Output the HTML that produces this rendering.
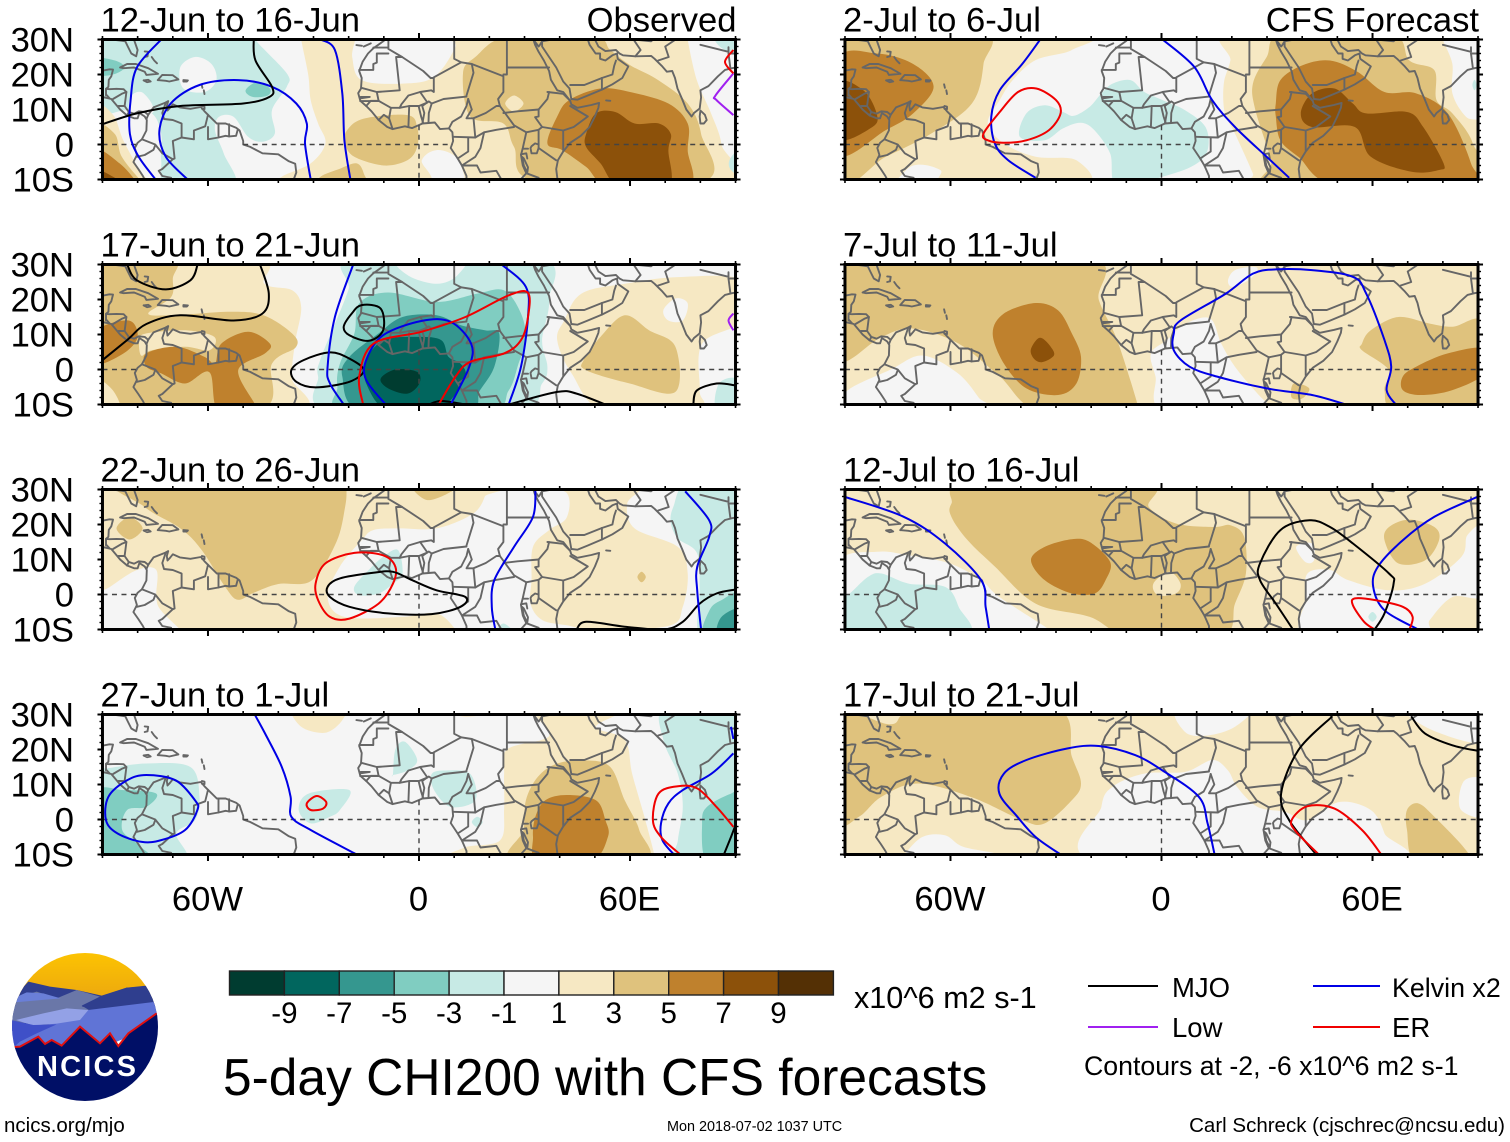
<!DOCTYPE html>
<html lang="en">
<head>
<meta charset="utf-8">
<title>5-day CHI200 with CFS forecasts</title>
<style>
html,body{margin:0;padding:0;background:#fff;width:1510px;height:1142px;overflow:hidden}
svg{display:block}
text{font-family:"Liberation Sans",sans-serif;fill:#000}
</style>
</head>
<body>
<svg id="figure" xmlns="http://www.w3.org/2000/svg" width="1510" height="1142" viewBox="0 0 1510 1142">
  <rect width="1510" height="1142" fill="#fff"/>
  <g id="panels"></g>
  <g id="colorbar"></g>
  <text x="854" y="1008" font-size="30.6">x10^6 m2 s-1</text>
  <text x="223" y="1095" font-size="51.5">5-day CHI200 with CFS forecasts</text>

  <g>
    <line x1="1088" x2="1158" y1="986" y2="986" stroke="#000" stroke-width="2"/>
    <text x="1172" y="997" font-size="27.5">MJO</text>
    <line x1="1088" x2="1158" y1="1027" y2="1027" stroke="#a020f0" stroke-width="2"/>
    <text x="1172" y="1037" font-size="27.5">Low</text>
    <line x1="1313" x2="1380" y1="986" y2="986" stroke="#0000e6" stroke-width="2"/>
    <text x="1392" y="997" font-size="26.8">Kelvin x2</text>
    <line x1="1313" x2="1380" y1="1027" y2="1027" stroke="#f00000" stroke-width="2"/>
    <text x="1392" y="1037" font-size="27.5">ER</text>
    <text x="1084" y="1075" font-size="26.7">Contours at -2, -6 x10^6 m2 s-1</text>
  </g>

  <text x="4" y="1132" font-size="20.5">ncics.org/mjo</text>
  <text x="667" y="1131" font-size="14.4">Mon 2018-07-02 1037 UTC</text>
  <text x="1505" y="1132" font-size="20.5" text-anchor="end">Carl Schreck (cjschrec@ncsu.edu)</text>

  <g>
    <defs>
      <clipPath id="logoClip"><ellipse cx="85" cy="1027" rx="73" ry="74"/></clipPath>
      <linearGradient id="sunGrad" x1="0" y1="0" x2="0" y2="1">
        <stop offset="0" stop-color="#ffc800"/><stop offset="1" stop-color="#eaa410"/>
      </linearGradient>
    </defs>
    <g clip-path="url(#logoClip)">
      <rect x="0" y="945" width="170" height="60" fill="url(#sunGrad)"/>
      <g transform="translate(0,945) scale(0.33333)">
        <path d="M20,180 L85,110 L150,125 L230,135 L305,152 L380,128 L440,122 L500,210 L300,230 L20,260 Z" fill="#2f3e8e"/>
        <path d="M20,175 L60,155 L110,140 L170,160 L230,135 L300,155 L245,182 L275,200 L160,225 L20,240 Z" fill="#6a77a8"/>
        <path d="M45,158 L80,142 L130,145 L182,160 L90,168 L45,172 Z" fill="#6a7fd8"/>
        <path d="M245,185 L300,155 L380,128 L440,125 L480,190 L300,192 Z" fill="#2f3e8e"/>
        <path d="M20,300 L80,270 L140,240 L265,195 L470,170 L490,205 L400,270 L300,310 L20,320 Z" fill="#6074d6"/>
        <path d="M48,225 L130,205 L200,190 L265,195 L240,225 L170,236 L100,242 Z" fill="#93a1e6"/>
        <path d="M20,222 L100,240 L170,238 L110,265 L60,290 L40,308 L20,320 Z" fill="#3f50c8"/>
        <path d="M30,306 L60,305 L115,275 L135,297 L155,285 L185,302 L240,245 L300,295 L330,265 L355,303 L385,265 L470,205 L510,190 L510,500 L10,500 Z" fill="#000f66"/>
        <path d="M40,306 L60,305 L115,275 L135,297 L155,285 L185,302 L240,245 L300,295 L330,265 L355,303 L385,265 L470,205" fill="none" stroke="#e01010" stroke-width="6"/>
      </g>
      <text x="37" y="1076" font-size="29" font-weight="bold" letter-spacing="2.2" style="fill:#fff">NCICS</text>
    </g>
  </g>
</svg>

<script>
/* ---------- colour levels (CHI200 anomaly, x10^6 m2 s-1) ---------- */
const shadeLevels = [-10, -8, -6, -4, -2, 0, 2, 4, 6, 8, 10];
const shadeColors = ["#003c30", "#01665e", "#35978f", "#80cdc1", "#c7eae5", "#f5f5f5", "#f6e8c3", "#dfc27d", "#bf812d", "#8c510a", "#543005"];
const colorbarTicks = [-9, -7, -5, -3, -1, 1, 3, 5, 7, 9];

/* ---------- axis labels ---------- */
const latTicks = [30, 20, 10, 0, -10];
const latTickLabels = ["30N", "20N", "10N", "0", "10S"];
const lonTicks = [-60, 0, 60];
const lonTickLabels = ["60W", "0", "60E"];
const panelTitles = ["12-Jun to 16-Jun", "17-Jun to 21-Jun", "22-Jun to 26-Jun", "27-Jun to 1-Jul", "2-Jul to 6-Jul", "7-Jul to 11-Jul", "12-Jul to 16-Jul", "17-Jul to 21-Jul"];
const lineColors = {mjo: "#000000", kelvin: "#0000e6", low: "#a020f0", er: "#f00000"};

/* ---------- geography, [lon, lat] ---------- */
const coastLines = [
  [[-81.4,31],[-80,27],[-80.4,25.2],[-81.8,26],[-82.8,28],[-83.5,29.5],[-85,29.7],[-89,30.2],[-91,29.5]],
  [[-91,18.6],[-90.4,21],[-88,21.5],[-87,21.4],[-87.5,19.5],[-88.2,18.5],[-88.3,16.5],[-89,15.9],[-88,15.8],[-86,15.9],[-84,15.8],[-83.2,15],[-83.5,12.5],[-83.7,11],[-82.5,9.3],[-81,8.8],[-79.7,9.5],[-78,9.3],[-77,8.5],[-75.5,10.6],[-74.5,11],[-72,12],[-71.3,12.4],[-71.7,11],[-71.5,9.7],[-70.8,10.5],[-70,11.5],[-68,10.6],[-65,10.2],[-62,10.7],[-61,9.5],[-60,8.5],[-57.5,6],[-55,6],[-52,4.8],[-51,4],[-50,1],[-50,0],[-48,-0.7],[-44.5,-2.5],[-40,-2.8],[-37,-4.8],[-35.2,-5.5],[-34.9,-8],[-36,-11]],
  [[-91,13.8],[-87.5,13],[-85.8,11],[-85,10],[-83,8.3],[-81,7.5],[-80,7.5],[-79.5,9],[-78,8],[-77.4,7],[-77.5,4],[-78.8,1.5],[-80,0.5],[-80.8,-1],[-80.2,-3],[-81.2,-5],[-79.8,-7],[-78.5,-9],[-77.5,-11]],
  [[-85,22],[-83,23],[-80.5,23],[-77,21.8],[-74.2,20.2],[-77.5,19.9],[-78,20.8],[-81,22],[-84,21.8],[-85,22]],
  [[-74.3,18.4],[-73,19.9],[-70,19.8],[-68.4,18.6],[-71,18],[-72,18.2],[-74.3,18.4]],
  [[-78.3,18.3],[-77,18.5],[-76.3,18],[-77.3,17.8],[-78.3,18.3]],
  [[-67,18.4],[-65.7,18.3],[-66,18],[-67,18],[-67,18.4]],
  [[-78,26.6],[-77,26.5],[-77.2,25.2],[-78,25]],
  [[-76,25],[-75.3,24],[-74.5,23.2]],
  [[-61.8,17.2],[-61.6,16.2]],
  [[-61.2,15.5],[-61,14.4]],
  [[-61.7,11],[-61,10.8],[-61,10.1],[-61.7,10.2]],
  [[-17.8,28.4],[-16.2,28.2]],
  [[-15.7,28],[-13.7,28.9]],
  [[-10,29.6],[-13,27.5],[-14.5,26],[-16,23.7],[-17,21],[-16.3,19],[-16.5,16],[-17.3,14.7],[-16.7,12.5],[-15,11],[-13.5,9.5],[-11.5,7],[-9,5],[-7.5,4.4],[-4,5.2],[-2,4.7],[1,6],[4.5,6.3],[6,4.4],[8.5,4.6],[9.5,3.5],[9.7,1],[9,-1],[11,-4],[12.2,-6],[13.5,-9],[13.5,-11]],
  [[39.5,-11],[39,-7],[39.5,-4.5],[41,-2],[43,0.5],[46,2.5],[48.5,5],[50,8],[51,10.5],[51.2,11.9],[49,11.3],[45,10.5],[43.3,11.5],[43,12.5],[41,15],[39.3,15.5],[37.5,18.5],[37,21],[35.5,24],[34,26.5],[33,28.5],[32.5,30],[34,28],[34.4,28.5],[35,29.5],[35,28],[37,25],[39,22],[41,18],[42.8,16],[43.3,13],[45,12.8],[48,14],[52,15.7],[55,17.2],[57.8,19],[59.5,22.3],[56.5,24.5],[56.3,26],[55,25.5],[53,24],[51.5,24.5],[51.5,26],[50.2,26],[48.5,28.5],[48,30],[50,30],[51,28],[53,26.7],[56,27],[57,26],[58,25.5],[61.5,25.2],[66,25.3],[67,24.5],[69,22.5],[70.5,20.8],[72,21],[72.8,19],[73.5,16],[74.8,13],[76,10],[77.5,8],[78.2,9],[79.8,10.3],[80.2,13.5],[80,15.5],[82.3,16.7],[85,19.5],[87,21.3],[89,21.8],[90,22],[91.5,22.5]],
  [[80,9.7],[81.3,8.5],[81.8,7],[81,6],[80,6],[79.8,8],[80,9.7]],
  [[53.2,12.6],[54.4,12.5]],
  [[32,-0.5],[33,0.3],[34,0],[34,-1],[33.5,-2.5],[32,-2.5],[31.7,-1],[32,-0.5]],
  [[29.3,-3.5],[29.8,-6],[30.8,-8],[31,-6.5],[29.8,-4],[29.3,-3.5]]
];
const borderLines = [
  [[-72,12],[-73,9],[-72.5,7.3],[-70,7],[-67.5,6],[-67.5,2],[-70,1],[-69.5,-4],[-70,-4.2],[-73,-2.5],[-75,0],[-78.8,1.5]],
  [[-75,-0.2],[-75.5,-1.5],[-78,-3],[-80.2,-3.5]],
  [[-70,-4.2],[-73,-7],[-74,-7.5],[-73,-9],[-70.5,-9.5],[-70.5,-11]],
  [[-70.5,-11],[-65,-10],[-60,-13]],
  [[-67.5,2],[-64,1.5],[-64,4],[-60.8,5.2],[-60,8.5]],
  [[-60,5],[-60,1.5],[-57,2],[-57,6]],
  [[-57,2],[-55,2.5],[-54,2.3],[-54,5.8]],
  [[-54,2.3],[-52,2.5],[-51.6,4]],
  [[-89,14],[-89,15.9]],
  [[-87,13],[-84.5,14.5],[-83.2,15]],
  [[-85.5,11],[-83.7,11]],
  [[-83,8.3],[-82.5,9.3]],
  [[-77.4,7.5],[-77,8.5]],
  [[-89,14.3],[-88,13.2]],
  [[-8.7,31],[-8.7,27.7],[-13,27.7]],
  [[-8.7,26],[-12,26],[-12,23.4],[-13,23],[-13,21.3],[-17,21.3]],
  [[-8.7,27.3],[-4.8,25],[-6.5,25],[-5.5,15.5],[-12,15],[-16.4,16.2]],
  [[-4.8,25],[1.2,21],[3.3,19],[4.2,19],[4.2,15],[3.5,15.5],[0.3,15],[-3,14],[-5,11.5],[-5.5,10.5]],
  [[4.2,19.2],[12,23.5],[15,23],[24,19.5],[24,15],[22.5,13],[23,11]],
  [[15,23],[15.5,20.5],[13.5,14]],
  [[25,31],[25,22],[37,22]],
  [[10,31],[10,24.5],[12,23.5]],
  [[24,20],[25,20],[25,22]],
  [[-12,15],[-11.5,12.5],[-8,10.5],[-5.5,10.5],[-2.8,11],[0,11],[2.4,12],[0.3,15]],
  [[3.6,11.7],[7,13],[13.5,13.7]],
  [[1,6.2],[1.5,9],[0.9,11],[2.8,12.3],[3.6,11.7],[2.8,9],[2.7,6.4]],
  [[-0.1,11],[0.6,8],[1.2,6.1]],
  [[-3,5],[-2.8,11]],
  [[-7.5,4.4],[-8.5,7.5],[-8,10.5]],
  [[-11.5,7],[-10,8.5],[-8.5,7.5]],
  [[-15,11],[-13.7,12.5],[-11.5,12.5]],
  [[-16.7,12.4],[-11.5,12.4]],
  [[-16.6,13.6],[-14,13.6],[-16.6,13.2]],
  [[8.5,4.6],[9.5,6.5],[12,8],[13.5,11],[14,13]],
  [[14,13],[15,10],[13.5,7.5],[15.5,7.5],[16,2]],
  [[15.5,7.5],[19,9],[22,11],[23,11],[27,5.5],[30.5,3.5]],
  [[16,2],[18.5,3.5],[22,4.2],[27,5]],
  [[9.8,2.2],[16,2]],
  [[14,2],[14,-2],[11,-4]],
  [[18.5,3.5],[17.5,-1],[16,-3.5],[12.2,-6]],
  [[12.2,-6],[16.5,-6],[17.5,-8],[22,-7.5],[24,-11]],
  [[30.5,3.5],[29.5,-1],[29,-3],[29.5,-6],[30.5,-8.2],[28,-11]],
  [[34,4.2],[34,0]],
  [[37,15],[36.5,13],[34,10],[34,8],[33,7.8],[35,5],[34,4.2],[30.5,3.5]],
  [[35,5],[41,4],[44,5],[48,8],[43,11]],
  [[41,4],[41,-1.7]],
  [[34,-1],[39,-4.5]],
  [[34.9,-11],[40,-10.5]],
  [[30.5,-8.2],[34,-9.5],[34.9,-11]],
  [[29.5,-1.2],[31,-1.2]],
  [[29,-2.8],[30.5,-2.5],[30.8,-4]],
  [[24,9],[28,9.5],[34,10]],
  [[36.5,15],[41,14.5],[43,12.5]],
  [[43,17],[47,17],[52,19],[55,20],[55.5,22.5],[56,24]],
  [[52,15.7],[52,19]],
  [[35,29.5],[38,30],[39,32]],
  [[61.5,25.2],[63,27],[61,30],[66,29.5],[70,33]],
  [[68,24],[71,25],[70,28],[73,30],[75,32]],
  [[80,28.5],[88,26.5],[88,27.8]],
  [[88,26],[92,26]],
  [[88,26],[88.5,22]],
  [[92,21],[92.5,24],[91,25]]
];
const equatorOceanSpans = [[-90,-80],[-50,9.5],[42,90]];
const primeMeridianOceanSpan = [5.5,-10];

/* ---------- panel 1: 12-Jun to 16-Jun ---------- */
const fills12Jun = [
  [2,[[-33.5,33],[-33.5,30],[-31.5,20],[-30.8,12.7],[-28.7,6],[-26.6,0.3],[-30.8,-5.4],[-39,-9.2],[-40,-12],[0.8,-12],[0.8,-4.5],[5,-1.6],[10.4,-3.5],[13,-9.2],[13,-12],[86,-12],[86,0],[83,9],[79,18.4],[76.4,30],[76.4,33],[10.4,33],[10.4,28],[4.3,19.3],[-4.7,17.4],[-16.3,18.4],[-19,25],[-19,33]]],
  [4,[[25.5,31],[16,25],[12.5,20.3],[14.6,8],[24,6],[27,-0.7],[33.8,-10.7],[80.5,-10.7],[80.2,3],[76.4,11.7],[68,18.4],[60,22.7],[54.4,27],[49.6,30.8]]],
  [2,[[24.5,11.7],[27,14],[29.7,11.7],[27,9.4]]],
  [4,[[-21,0.3],[-20.5,4],[-15.7,7.4],[-3.3,8.4],[-0.5,5],[-0.5,-0.7],[-3.3,-4.5],[-10,-6],[-18.4,-3.5]]],
  [4,[[-28,-9.2],[-22.5,-6.9],[-17.7,-5.4],[-15.7,-8.3],[-15.7,-12],[-29,-12]]],
  [6,[[42.7,12.7],[51.6,16],[60,15],[70.9,11.7],[76.4,6],[76.4,-1.6],[76.4,-12],[54.4,-12],[47.5,-6.4],[40.7,-1.6],[36.5,0.3],[39.3,8]]],
  [8,[[47.5,3],[50.3,8.9],[55.8,9.3],[61.3,6],[68.2,6],[71.6,3],[70.9,-1.6],[70.9,-12],[57,-12],[51.6,-5.4],[47.5,-0.7]]],
  [-2,[[-92,32],[-46,32],[-46.6,30],[-37.6,20.3],[-37.6,16.5],[-41.8,9.8],[-41,3.1],[-44.5,0.8],[-48.6,2.2],[-52.7,7.9],[-56.9,7.9],[-58,4],[-55.5,-2.6],[-52.7,-12],[-71.3,-12],[-73.3,-4.5],[-73.3,3.1],[-76,8.9],[-83,9.8],[-92,10.3]]],
  [0,[[-67.9,22],[-63.7,25],[-59,23],[-57.6,18.4],[-61,15],[-67,16]]],
  [0,[[-82,13.6],[-79,15],[-76,11.7],[-76,8.9],[-82,9]]],
  [-4,[[-92,24.5],[-86.4,24],[-83.7,22],[-87,20],[-92,20]]],
  [-4,[[-49.3,15.5],[-45.9,17.9],[-42.4,16],[-43,14],[-47.3,13.6]]],
  [2,[[-92,10],[-87,8.5],[-84,1],[-79,-8],[-76,-12],[-92,-12]]],
  [4,[[-92,5],[-86.5,3],[-84.5,-3.5],[-79,-10.5],[-78,-12],[-92,-12]]],
  [6,[[-92,-1.5],[-85,-5.5],[-80,-11],[-79,-12],[-92,-12]]],
  [8,[[-92,-7],[-84,-11],[-83,-12],[-92,-12]]],
  [-2,[[84,32],[85.5,28],[91,26],[92,32]]],
  [-2,[[92,-1],[88.5,-4],[88.5,-7],[92,-9]]]
];
const lines12Jun = [
  ["kelvin",false,[[-73.3,30],[-80.2,22],[-82,12.7],[-82.2,3],[-79.7,-3.5],[-74.9,-10]]],
  ["kelvin",false,[[-65.8,-10],[-72,-3.5],[-73.8,4],[-70.6,11.7],[-62.4,17],[-51.4,18.4],[-41.8,16.5],[-34.9,11.7],[-31.9,6],[-32.4,0.3],[-30.8,-10]]],
  ["kelvin",false,[[-28,30],[-23.9,27],[-21.8,14.6],[-21.2,1.2],[-19.5,-10]]],
  ["mjo",false,[[-47,30],[-46.5,24],[-41.8,16.5],[-42.5,13.6],[-50,11.7],[-67.9,11],[-80.2,8.9],[-90,5.8]]],
  ["low",false,[[89.4,20.3],[84.3,14],[84.6,12.7],[89.4,8.4]]],
  ["er",false,[[89.4,27],[87,23.6],[89.4,20.3]]]
];

/* ---------- panel 2: 17-Jun to 21-Jun ---------- */
const fills17Jun = [
  [2,[[-46,32],[-44,24.5],[-36,22.6],[-33.5,17.8],[-35,9],[-36,1.7],[-36,-3],[-35,-12],[-92,-12],[-92,32]]],
  [4,[[-92,32],[-70,32],[-70,26],[-70.5,20.7],[-77,16],[-70,15.5],[-53.5,16.5],[-44,15.4],[-36,10.2],[-35,6.4],[-41.8,1.7],[-46,-12],[-92,-12]]],
  [2,[[-79.5,8.4],[-77.5,10.3],[-66.5,11.2],[-58.2,9.3],[-59.6,5.5],[-66.5,6.5],[-76,5.5],[-79,4]]],
  [2,[[-92,-3],[-87,-6],[-85,-12],[-92,-12]]],
  [6,[[-92,10.8],[-82.6,14],[-80,9.3],[-84,4.6],[-92,1.7]]],
  [6,[[-77.5,4.6],[-69,6.5],[-61,3.6],[-58,1.7],[-56.2,7.4],[-48.6,10.8],[-42.4,7.4],[-43.8,4.6],[-51.4,-0.2],[-46.6,-10],[-46,-12],[-57,-12],[-59.6,-0.8],[-66.5,-4],[-73.3,-1.1],[-77.5,0.8]]],
  [2,[[39.3,8.4],[41.3,14],[46.2,21.7],[58.5,24.5],[73.6,26.4],[92,25.5],[92,14],[80.5,7.4],[79.8,-6],[79,-10.5],[53,-12],[43.4,-1.1]]],
  [0,[[69.5,17],[73,20.3],[76.4,18.9],[75,14],[70.9,14]]],
  [4,[[46.8,2.7],[51.6,9.3],[58.5,15.5],[65.4,11.2],[72.9,6.5],[72.9,-6.4],[59.9,-4],[47.5,-0.2]]],
  [-2,[[-18,32],[-20,23],[-24,12.8],[-28,3],[-28.7,-2],[-25,-12],[27,-12],[35,-4],[36.5,0.8],[35,8.4],[37,19.8],[33.8,32]]],
  [0,[[-6,32],[-3.3,27],[5,24.5],[11,27],[13,33]]],
  [-4,[[-17,18.9],[-8.8,22],[5,19.3],[16.6,21.7],[24.2,22.6],[29,16],[30.4,8.4],[28.3,1.7],[25.5,-6],[18.7,-12],[-21,-12],[-23.2,-5],[-22.5,1.7],[-18.4,10.2]]],
  [-6,[[-11.5,10.3],[-4.7,15],[5,15.5],[11.8,12.7],[18.7,11.2],[22.8,10.3],[21.4,0.8],[17.3,-6],[13.2,-12],[-16.3,-12],[-21.8,-2],[-19.8,3.6]]],
  [-8,[[-10,8.4],[-0.5,9.3],[6.3,8.4],[8.4,3.6],[11.8,1.7],[13.2,-2],[9,-8.8],[5,-12],[-8.8,-12],[-15,-4],[-15,2.7]]],
  [-10,[[-10.9,-2.6],[-6.7,0],[-0.5,-0.7],[0.1,-4],[-3.3,-6.9],[-8.8,-5.4]]],
  [-2,[[84.6,-12],[85.3,-4],[90.8,-3],[92,-12]]]
];
const lines17Jun = [
  ["mjo",false,[[-83,30],[-80.2,25.5],[-72,22.9],[-65,25.5],[-63,29.8]]],
  ["mjo",false,[[-45.2,30],[-42.7,21.7],[-44.5,16],[-52.7,14],[-67.9,15.5],[-77.5,13],[-83,8.4],[-90,2.7]]],
  ["mjo",true,[[-16.3,18.4],[-10.9,17.4],[-10.2,11.2],[-14.3,8.2],[-19.8,9.8],[-21.4,12.2],[-19.1,16]]],
  ["mjo",true,[[-36.3,-0.2],[-32.8,2.7],[-25.3,4.9],[-19.8,3.1],[-15.7,-0.2],[-19.8,-3.5],[-29.4,-5.1],[-34.9,-3.5]]],
  ["mjo",false,[[2.9,-10],[6.3,-9],[13.2,-10]]],
  ["mjo",false,[[25.5,-10],[39.3,-6.4],[44.8,-6.9],[53,-10]]],
  ["mjo",false,[[78,-10],[79,-6],[84.6,-4],[89.8,-4.5]]],
  ["kelvin",false,[[-18.7,30],[-23.9,15],[-26,0.8],[-25.3,-4],[-21.4,-10]]],
  ["kelvin",false,[[-9.5,-10],[-15,-3],[-15,2.7],[-10.2,9.8],[0.8,13.9],[9,13.6],[14.8,7.4],[14.3,0.8],[9,-10]]],
  ["kelvin",false,[[23.5,30],[30.4,23.6],[31,15],[29,0.8],[25.5,-10]]],
  ["er",false,[[-15.9,-10],[-17,-2],[-12.9,7.4],[0.8,10.8],[13.2,15],[25.5,21.2],[31,21.9],[31,15],[29,8.4],[24.2,4.6],[14.6,2.2],[10.4,-2],[5.6,-10]]],
  ["low",false,[[89.4,16],[88,14],[89.4,11.2]]]
];

/* ---------- panel 3: 22-Jun to 26-Jun ---------- */
const fills22Jun = [
  [2,[[-92,32],[18.7,32],[18.7,28],[15.2,23],[5,18.9],[-6,18.9],[-13,18.4],[-16.3,15.5],[-22.5,8],[-26,-0.7],[-21.2,-6.4],[-4.7,-6.4],[5,-5.4],[10.4,-10],[11,-12],[-92,-12]]],
  [0,[[-92,-1],[-87.8,2.2],[-80.2,7],[-74.7,7],[-74.7,-0.7],[-73.4,-4.5],[-67.9,-10],[-66,-12],[-92,-12]]],
  [2,[[33.8,32],[42,29],[42,22],[37,18.4],[32.4,13.6],[32,4],[31.7,-2.6],[35,-7.3],[42,-8.8],[50,-10],[70.9,-9],[75,-3.5],[76.4,6],[73.6,13.6],[61.3,18.9],[59.2,26],[62.6,32]]],
  [4,[[-84,33],[-21,33],[-20.6,30],[-21,25],[-23.5,15],[-30.5,4],[-40,3],[-47,0.5],[-51.5,-1.5],[-55,2],[-62,13],[-68,19],[-78,25]]],
  [4,[[-86,18.9],[-82.3,22.1],[-78.6,18.9],[-82.3,15.7]]],
  [4,[[-2,32],[2.2,27],[9.8,29.8],[10,32]]],
  [4,[[62.1,5],[63.3,6.5],[64.5,5],[63.3,3.5]]],
  [-2,[[-18.4,2.2],[-14.3,7],[-10.2,10.8],[-6,12.7],[-4.7,6],[-7.4,3.1],[-11.5,0.3],[-17,-0.2]]],
  [-2,[[71.6,20.5],[73.6,16],[79.1,11.7],[79.8,1.2],[80,-12],[92,-12],[92,32],[76.4,32],[72.3,25]]],
  [-4,[[81,-12],[82.6,-4.5],[86,-1.6],[92,0.3],[92,-12]]],
  [-6,[[85,-12],[86,-6.4],[92,-4],[92,-12]]],
  [-2,[[21.4,-12],[24,-8.3],[27.6,-12]]]
];
const lines22Jun = [
  ["er",true,[[-29.4,3.1],[-26.6,8.9],[-18.4,11.9],[-10.2,11.2],[-6.7,7.9],[-7.4,3.1],[-11.5,-2.6],[-19.8,-6.9],[-25.3,-6.4],[-28.7,-1.6]]],
  ["mjo",true,[[-26,2.2],[-22.5,4.6],[-13,6.2],[-7.4,6.5],[-2,4.1],[5,1.2],[13.2,-0.7],[11.8,-3.5],[3.6,-5.6],[-8.8,-5.4],[-19.8,-3.5],[-25.3,-0.7]]],
  ["mjo",false,[[44.8,-10],[47.5,-7.8],[58.5,-9.2],[69.5,-10],[75,-7.8],[79.8,-2.6],[84.6,0.3],[89.8,1.4]]],
  ["kelvin",false,[[33.1,30],[32.4,22.2],[27,13.6],[21.4,4.1],[20.7,-3.5],[21.7,-10]]],
  ["kelvin",false,[[75.7,29.5],[82.5,21.2],[82.5,16.5],[79.1,7.9],[79.1,1.2],[80.2,-10]]]
];

/* ---------- panel 4: 27-Jun to 1-Jul ---------- */
const fills27Jun = [
  [2,[[-35.6,32],[-33.5,26.5],[-26.6,24.8],[-21.8,28.4],[-21.8,32]]],
  [2,[[10.4,32],[12,29.5],[18.7,30],[19,32]]],
  [2,[[24.2,13],[25,20],[35,22.8],[37,25],[33.8,32],[58.5,32],[50.3,26.5],[58.5,22.8],[60.6,13.1],[64.1,0.8],[66.9,-10],[66.9,-12],[11,-12],[13,-8],[23,-6],[24.2,3]]],
  [4,[[30.4,5.5],[33.8,12.2],[39.3,16],[47.5,16.9],[54.4,15],[58.5,5.5],[62.6,-3],[63.3,-12],[27,-12],[29.7,-3]]],
  [6,[[33.1,0.8],[35.9,5.5],[42,7],[50.3,5.5],[53,-0.2],[53.7,-5],[48.9,-12],[33.8,-12],[32.4,-5]]],
  [-2,[[-7.4,13],[-6.7,20],[-4,22.2],[-0.5,17],[-3.3,14],[-7.4,12.7]]],
  [-2,[[3.6,13],[7.7,14],[14.6,13],[16,5.5],[9,3.6],[4.3,8.4]]],
  [-2,[[15,-0.7],[16.6,0.8],[18.1,-0.7],[16.6,-2.2]]],
  [-2,[[-34.2,2.7],[-31.4,7.4],[-19.8,8.4],[-22.5,2.7],[-25.3,0.8],[-30.8,-1.1]]],
  [-2,[[-92,14.6],[-89,14.6],[-77.5,16],[-65,15],[-62.4,6.5],[-63.7,-0.2],[-69,-4],[-67,-12],[-92,-12]]],
  [-4,[[-92,7.4],[-84,8.4],[-74.7,7.4],[-77.5,3.6],[-83,2.7],[-84.4,-3],[-80.2,-6.9],[-76,-12],[-92,-12]]],
  [-2,[[70.2,32],[69.5,22.7],[73.6,13],[75,3.6],[73.6,-5.9],[73.6,-12],[92,-12],[92,32]]],
  [-4,[[81.9,3.6],[88.7,7.4],[92,7.4],[92,-12],[81.9,-12],[80.5,-1]]]
];
const lines27Jun = [
  ["kelvin",true,[[-89,-0.2],[-88.3,6.5],[-83,11.2],[-77.5,12.7],[-69.2,11.2],[-63.7,5.5],[-63,2.7],[-66.5,-3],[-73.3,-5.9],[-78.8,-6.4],[-85.7,-4]]],
  ["kelvin",false,[[-46.6,29.8],[-43.8,24.6],[-39,15],[-36.5,6.5],[-36.3,0.8],[-30.8,-3],[-17.7,-10]]],
  ["kelvin",false,[[89.4,18.9],[83.2,13.1],[75,8.4],[70.9,4.6],[68.8,-1.1],[69.2,-5.9],[72.5,-10]]],
  ["kelvin",false,[[88.7,26.5],[89.4,23]]],
  ["er",false,[[74.3,-10],[68.8,-5],[66.5,-0.2],[68.1,7.4],[73.6,9.5],[79.1,8.9],[84.6,3.6],[89.4,-2.1]]],
  ["er",true,[[-29.1,6.7],[-26.4,5],[-27.3,3.1],[-30.8,2.7],[-31.9,4.6]]],
  ["mjo",false,[[86.7,-10],[88.7,-5],[89.8,-2.1]]]
];

/* ---------- panel 5: 2-Jul to 6-Jul ---------- */
const fills2Jul = [
  [2,[[-92,32],[-22.9,32],[-25.5,27],[-35.8,24.1],[-42.3,18.4],[-46,12.7],[-49.4,6],[-44.8,0.3],[-35.8,-3.5],[-24.2,-4.5],[-22.3,-12],[-60.3,-12],[-62.9,-7.3],[-70.6,-6],[-78.4,-12],[-92,-12]]],
  [4,[[-92,32],[-51.3,32],[-50.6,23],[-53.9,11.7],[-65.5,3.1],[-78.4,-3.5],[-92,-10]]],
  [6,[[-92,24],[-81,26],[-70.6,23],[-64.8,16.5],[-70.6,8.9],[-78.4,4.1],[-92,-2.6]]],
  [8,[[-92,17.4],[-84.8,15.5],[-81,8.9],[-82.2,5],[-92,1.7]]],
  [2,[[21,33],[19.6,24],[17.7,17.4],[18,9],[20.9,3.1],[26,-8.3],[27,-12],[92,-12],[92,5],[86.6,7.9],[82.7,14.6],[82.7,23],[80,30],[80,33]]],
  [4,[[26,17.4],[29.9,25],[35,32],[64.7,32],[70.5,24],[77.6,21.2],[78.2,12.7],[82.7,8.9],[88.5,0.3],[89.2,-12],[32.5,-12],[31.2,-4.5],[26.7,9.8]]],
  [6,[[32.5,11.7],[33.8,18.4],[40.2,22.7],[47.9,24],[55.7,20.8],[63.4,15],[72.4,14.6],[81.4,8.9],[88,-5.4],[88,-12],[50.5,-12],[38.9,-3.5],[33.8,1.2],[32.5,8]]],
  [8,[[39.6,8.9],[42.8,14.6],[49.2,16],[54.4,11.7],[58.2,8.9],[69.8,9.3],[74.4,5],[80.2,-5.4],[78.9,-7.3],[71.1,-7.8],[59.5,-3.5],[55,5],[42.8,5]]],
  [-2,[[-40.3,2.2],[-38.4,8.9],[-33.2,11.2],[-28,9.3],[-24.9,8.2],[-20.4,10.8],[-17.1,14.6],[-13.9,17.4],[-8.8,18.4],[-4.9,15],[0.3,12.7],[6.7,9.8],[12.5,5],[13.1,-1.6],[9.3,-5.9],[0.3,-9.2],[-12.6,-12],[-14.6,-2.6],[-19,4],[-22.9,6.2],[-28,4.6],[-33.2,1.2]]],
  [-2,[[88.4,17],[89,18.5],[89.6,17],[89,15.5]]]
];
const lines2Jul = [
  ["kelvin",false,[[-34.5,30],[-39.6,23],[-46,15.5],[-48.4,8],[-47.4,0.3],[-43.6,-4.5],[-35.8,-9.5]]],
  ["kelvin",false,[[0.3,30],[9.3,22.2],[14.4,12.7],[20.9,5],[29.9,-3.5],[36.3,-9.5]]],
  ["er",true,[[-50.6,3.1],[-46,9.3],[-40.8,15],[-35.6,16],[-30,12.7],[-28.7,8.9],[-32,4.1],[-38.4,1.2],[-44.8,0.5],[-49.4,1.2]]]
];

/* ---------- panel 6: 7-Jul to 11-Jul ---------- */
const fills7Jul = [
  [2,[[-92,32],[92,32],[92,-12],[-92,-12]]],
  [0,[[-92,-12],[-89.3,-6],[-77,0],[-68,4],[-58,-1],[-52,-8],[-50,-12]]],
  [0,[[-3,4.6],[1.5,8.4],[6.7,13],[13.8,14.6],[17,7.4],[20.9,0.8],[27.3,-6.9],[31.2,-10.7],[31.2,-12],[0.9,-12],[-1.7,-2]]],
  [0,[[18.9,25.5],[20.9,28.4],[26,29.3],[27.3,28.4],[24.7,25.5],[20.2,23.6]]],
  [4,[[-92,27],[-80,30.5],[-75,32],[-20.4,32],[-17.8,19.8],[-12.6,8.4],[-6.8,-10],[-6.8,-12],[-34.5,-12],[-46,-2],[-57.7,7.4],[-70.6,11.7],[-79.6,9.3],[-92,2.7]]],
  [6,[[-48,10.3],[-44.8,16],[-35.8,19],[-29.4,16.9],[-25.5,10.3],[-22.9,3.6],[-24.2,-4],[-29.4,-7.3],[-38.4,-5.4],[-44.8,1.7]]],
  [8,[[-37.2,5.5],[-35.5,8.5],[-33.9,8.9],[-31.5,6.5],[-30.6,4],[-33.9,2.1],[-36.2,3]]],
  [4,[[57,7.4],[59.5,11.2],[67.3,15],[76.3,13.1],[82.7,12.2],[92,13],[92,-12],[67.3,-12],[63.4,-6],[64.7,-0.2],[57,5.5]]],
  [4,[[37.6,-4],[42,-5.4],[40,-8.3],[37,-8]]],
  [6,[[68.6,-2],[72.4,0.8],[81.4,4.6],[92,6],[92,-1],[82.7,-5.9],[73.7,-7.3],[68.6,-5.9]]]
];
const lines7Jul = [
  ["kelvin",false,[[52.4,-10],[42.8,-7.3],[29.9,-5.4],[15.7,-2],[8,0.8],[3.5,5.5],[3.5,10.3],[5.4,14],[18.3,21.7],[26,27.4],[32.5,28.6],[42.8,28.4],[54.4,26.5],[58.2,21.7],[63.4,8.4],[65.3,0.8],[64,-5.9],[66.6,-10]]]
];

/* ---------- panel 7: 12-Jul to 16-Jul ---------- */
const fills12Jul = [
  [2,[[-92,32],[92,32],[92,-12],[-92,-12]]],
  [0,[[-92,8.9],[-80.9,12.2],[-71.9,11.2],[-60.3,8.9],[-51.3,4.1],[-46.1,-0.7],[-31.9,-10],[-30,-12],[-92,-12]]],
  [0,[[41.5,6],[47.9,7],[53.1,4.1],[64.7,1.2],[75,3.1],[85.3,10.8],[87,17],[92,19],[92,0.3],[82.7,-0.7],[76.3,-7.3],[73.7,-12],[41.5,-12],[40.9,-1.6]]],
  [0,[[38.3,13.6],[42.8,14.6],[43.4,9.8],[40.9,9.3]]],
  [4,[[-59.7,26],[-54.5,32],[-4.9,32],[-3.6,25],[4.1,20.3],[15,19.3],[19.6,19.8],[23.5,16.5],[24,6],[20.9,-2.6],[17,-12],[-8.8,-12],[-20.4,-6.4],[-35.8,-2.6],[-47.4,8],[-55.1,15.5],[-59.7,22.1]]],
  [2,[[-2.3,3.1],[2.2,6.5],[5.4,3.1],[4.1,0.3],[-1,-0.2]]],
  [6,[[-37.1,9.8],[-33.2,13.6],[-25.5,15.8],[-20.4,15],[-14.6,9.3],[-15.9,4.1],[-19,0.3],[-25.5,0.3],[-33.2,4.1]]],
  [4,[[63.4,15.5],[64.7,19.3],[70.5,21.4],[77.6,19.3],[78.9,15.5],[75,9.8],[67.3,8.9]]],
  [-2,[[-89.3,-0.2],[-83.5,5],[-79.6,6],[-71.9,3.1],[-61.6,2.2],[-57.7,-3.5],[-56.2,-12],[-92,-12],[-92,-0.2]]],
  [-2,[[58.8,-6.4],[60,-5],[61.2,-6.4],[60,-7.8]]]
];
const lines12Jul = [
  ["kelvin",false,[[-90,27.9],[-73.3,22.2],[-61.6,14.6],[-51.3,4.1],[-50,-3.5],[-49,-10]]],
  ["kelvin",false,[[89.8,27.9],[77.6,22.2],[68.6,15.5],[61.5,7.9],[60.2,2.2],[63.4,-4.5],[73,-10]]],
  ["mjo",false,[[37.4,-10],[32.5,-2.6],[28,4.1],[28,8.9],[33.8,18.4],[42.1,21.2],[47.9,19.3],[54.4,14.6],[64.7,6],[66,3.1],[63.4,-5.4],[60.6,-10]]],
  ["er",false,[[70.5,-10],[71.4,-6.4],[68.6,-3.5],[60.8,-1.6],[55,-1.1],[54.4,-3],[57.6,-7.8],[60.6,-10]]]
];

/* ---------- panel 8: 17-Jul to 21-Jul ---------- */
const fills17Jul = [
  [2,[[-92,32],[92,32],[92,-12],[-92,-12]]],
  [0,[[-75,-12],[-73.2,-10],[-68,-5],[-61.6,-4.5],[-56.4,-7.8],[-46,-10],[-46,-12]]],
  [0,[[-17.8,-12],[-17.1,3.6],[-14,9.3],[-4.9,13.1],[6.7,13.6],[14.5,17],[18.9,14],[21.5,9.3],[27.3,3.6],[35,2.2],[41.5,-0.2],[50.5,5],[59.5,2.7],[63.4,-4],[64.7,-12]]],
  [0,[[4.8,32],[6.7,25],[13.1,24],[20.9,26.5],[24.7,32]]],
  [0,[[70,32],[75,26.5],[88,22],[92,24],[92,32]]],
  [0,[[86,11],[85,3],[92,1],[92,11]]],
  [4,[[-92,29.3],[-77,27.2],[-69.4,31],[-30.6,32],[-25.5,18],[-22.9,10.3],[-25.5,5.5],[-33.2,-1.1],[-39.6,-0.2],[-53.8,6.3],[-69.2,10.3],[-79.6,6.5],[-86,0.8],[-92,0.3]]],
  [4,[[69.8,2.7],[73,4.6],[77.6,0.8],[86.6,-8.8],[86.6,-12],[72.4,-12],[69.8,-3]]]
];
const lines17Jul = [
  ["kelvin",false,[[-28.7,-10],[-35.8,-5],[-41,0.8],[-46.1,7.4],[-44.8,13.1],[-38.4,17],[-26.8,20.3],[-17.8,21],[-7.5,18.4],[0.3,14],[10.6,6.5],[13.1,-1.1],[15.1,-10]]],
  ["mjo",false,[[44,-10],[36.3,-0.2],[34,7.4],[38.9,19.8],[48.6,29.5]]],
  ["mjo",false,[[71,29.5],[74.9,24.6],[82.7,21.2],[90,19.6]]],
  ["er",false,[[44.7,-10],[38.3,-3.5],[37,-0.2],[41.5,3.8],[49.2,3.1],[57,-3],[62.5,-10]]]
];

const panelFills = [fills12Jun, fills17Jun, fills22Jun, fills27Jun, fills2Jul, fills7Jul, fills12Jul, fills17Jul];
const panelLines = [lines12Jun, lines17Jun, lines22Jun, lines27Jun, lines2Jul, lines7Jul, lines12Jul, lines17Jul];

/* ---------- layout and axis functions ---------- */
const SVGNS = "http://www.w3.org/2000/svg";
const PX_PER_LON = 3.517;
const PX_PER_LAT = 3.5;
const columnCentres = [419, 1161.5];
const rowTops = [39.5, 264.5, 489.5, 714.5];

function lonAxis(panel, lon) { return columnCentres[panel.col] + lon * PX_PER_LON; }
function latAxis(panel, lat) { return rowTops[panel.row] + (30 - lat) * PX_PER_LAT; }
function shade(level) { return shadeColors[shadeLevels.indexOf(level)]; }

function make(tag, attrs, parent) {
  const el = document.createElementNS(SVGNS, tag);
  for (const key in attrs) el.setAttribute(key, attrs[key]);
  if (parent) parent.appendChild(el);
  return el;
}

function smoothPath(xy, closed) {
  const n = xy.length;
  const at = i => closed ? xy[(i + n) % n] : xy[Math.max(0, Math.min(n - 1, i))];
  let d = "M" + xy[0][0].toFixed(1) + "," + xy[0][1].toFixed(1);
  const last = closed ? n : n - 1;
  for (let i = 0; i < last; i++) {
    const p0 = at(i - 1), p1 = at(i), p2 = at(i + 1), p3 = at(i + 2);
    const c1x = p1[0] + (p2[0] - p0[0]) / 6, c1y = p1[1] + (p2[1] - p0[1]) / 6;
    const c2x = p2[0] - (p3[0] - p1[0]) / 6, c2y = p2[1] - (p3[1] - p1[1]) / 6;
    d += "C" + c1x.toFixed(1) + "," + c1y.toFixed(1) + " " + c2x.toFixed(1) + "," + c2y.toFixed(1) + " " + p2[0].toFixed(1) + "," + p2[1].toFixed(1);
  }
  return closed ? d + "Z" : d;
}

function straightPath(xy) {
  return "M" + xy.map(p => p[0].toFixed(1) + "," + p[1].toFixed(1)).join("L");
}

function drawPanel(index) {
  const panel = {col: index < 4 ? 0 : 1, row: index % 4};
  const project = pts => pts.map(p => [lonAxis(panel, p[0]), latAxis(panel, p[1])]);
  const x0 = lonAxis(panel, -90), x1 = lonAxis(panel, 90);
  const y0 = latAxis(panel, 30), y1 = latAxis(panel, -10);

  const root = document.getElementById("panels");
  const g = make("g", {}, root);
  
  

  const clip = make("clipPath", {id: "clip" + index}, g);
  make("rect", {x: x0, y: y0, width: x1 - x0, height: y1 - y0}, clip);

  const body = make("g", {"clip-path": "url(#clip" + index + ")"}, g);
  const bg = make("rect", {x: x0, y: y0, width: x1 - x0, height: y1 - y0, fill: shade(0)}, body);
  
  

  panelFills[index].forEach(item => {
    const fillEl = make("path", {d: smoothPath(project(item[1]), true), fill: shade(item[0])}, body);
    
    
  });

  const map = make("g", {fill: "none", stroke: "#666", "stroke-width": 1.9, "stroke-linejoin": "round", "stroke-linecap": "round"}, body);
  
  
  coastLines.concat(borderLines).forEach(line => {
    make("path", {d: straightPath(project(line))}, map);
  });

  equatorOceanSpans.forEach(span => {
    const eq = make("line", {x1: lonAxis(panel, span[0]), x2: lonAxis(panel, span[1]), y1: latAxis(panel, 0), y2: latAxis(panel, 0), stroke: "#444", "stroke-width": 1.4, "stroke-dasharray": "5 4.5"}, body);
    
    
  });
  const pm = make("line", {x1: lonAxis(panel, 0), x2: lonAxis(panel, 0), y1: latAxis(panel, primeMeridianOceanSpan[0]), y2: latAxis(panel, primeMeridianOceanSpan[1]), stroke: "#444", "stroke-width": 1.4, "stroke-dasharray": "5 4.5"}, body);
  
  

  panelLines[index].forEach(item => {
    const lineEl = make("path", {d: smoothPath(project(item[2]), item[1]), fill: "none", stroke: lineColors[item[0]], "stroke-width": 2}, body);
    
    
  });

  /* frame and ticks */
  const ticks = make("g", {stroke: "#000", fill: "none"}, g);
  
  
  for (let lon = -90; lon <= 90; lon += 10) {
    const major = lonTicks.indexOf(lon) >= 0;
    const len = major ? 6.5 : 3.5;
    const w = major ? 2 : 1.6;
    make("line", {x1: lonAxis(panel, lon), x2: lonAxis(panel, lon), y1: y0 - len, y2: y0, "stroke-width": w}, ticks);
    make("line", {x1: lonAxis(panel, lon), x2: lonAxis(panel, lon), y1: y1, y2: y1 + len, "stroke-width": w}, ticks);
  }
  for (let lat = -10; lat <= 30; lat += 2) {
    const major = lat % 10 === 0;
    const len = major ? 5 : 3;
    const w = major ? 2 : 1.4;
    make("line", {x1: x0 - len, x2: x0, y1: latAxis(panel, lat), y2: latAxis(panel, lat), "stroke-width": w}, ticks);
    make("line", {x1: x1, x2: x1 + len, y1: latAxis(panel, lat), y2: latAxis(panel, lat), "stroke-width": w}, ticks);
  }
  const frame = make("rect", {x: x0, y: y0, width: x1 - x0, height: y1 - y0, fill: "none", stroke: "#000", "stroke-width": 3}, g);
  
  

  /* text */
  const title = make("text", {x: x0 - 2, y: y0 - 8, "font-size": 34.6}, g);
  title.textContent = panelTitles[index];
  
  

  if (panel.col === 0) {
    latTicks.forEach((lat, i) => {
      const label = make("text", {x: 74, y: latAxis(panel, lat) + 12, "font-size": 34.6, "text-anchor": "end"}, g);
      label.textContent = latTickLabels[i];
      
      
    });
  }
  if (panel.row === 3) {
    lonTicks.forEach((lon, i) => {
      const label = make("text", {x: lonAxis(panel, lon) - 0.5, y: y1 + 56, "font-size": 34.6, "text-anchor": "middle"}, g);
      label.textContent = lonTickLabels[i];
      
      
    });
  }
  if (index === 0 || index === 4) {
    const tag = make("text", {x: x1 + 1, y: y0 - 8, "font-size": 34.6, "text-anchor": "end"}, g);
    tag.textContent = index === 0 ? "Observed" : "CFS Forecast";
    
    
  }
}

function drawColorbar() {
  const root = document.getElementById("colorbar");
  const left = 229.5, cell = 54.9, top = 971, height = 24;
  shadeColors.forEach((color, i) => {
    const box = make("rect", {x: left + i * cell, y: top, width: cell, height: height, fill: color, stroke: "#222", "stroke-width": 1.4}, root);
    
    
  });
  colorbarTicks.forEach((value, i) => {
    const label = make("text", {x: left + (i + 1) * cell, y: 1023, "font-size": 29.5, "text-anchor": "middle"}, root);
    label.textContent = String(value);
    
    
  });
}

panelTitles.forEach((_, i) => drawPanel(i));
drawColorbar();
</script>
</body>
</html>
